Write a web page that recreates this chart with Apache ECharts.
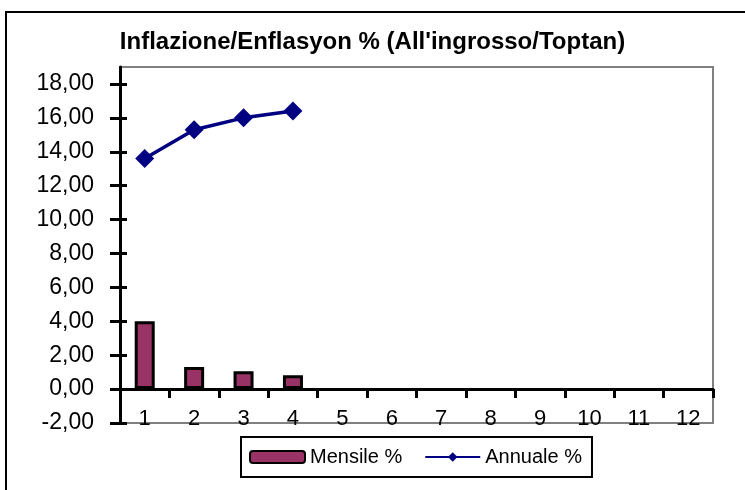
<!DOCTYPE html>
<html>
<head>
<meta charset="utf-8">
<script src="https://cdn.jsdelivr.net/npm/echarts@6/dist/echarts.min.js"></script>
<style>
  html, body { margin: 0; padding: 0; background: #fff; }
  #chart { width: 745px; height: 490px; }
</style>
</head>
<body>
<div id="chart"></div>
<script>
// dati
var mesi = ['1', '2', '3', '4', '5', '6', '7', '8', '9', '10', '11', '12'];
var mensile = [4.0, 1.3, 1.05, 0.82];
var annuale = [13.6, 15.3, 16.0, 16.4];
var yTicks = [-2, 0, 2, 4, 6, 8, 10, 12, 14, 16, 18];

var font = 'Liberation Sans, Arial, sans-serif';

var myChart = echarts.init(document.getElementById('chart'));

var option = {
    backgroundColor: '#fff',
    animation: false,
    title: {
        text: "Inflazione/Enflasyon % (All'ingrosso/Toptan)",
        left: 'center',
        top: 25,
        textStyle: { fontFamily: font, fontSize: 24, fontWeight: 'bold', color: '#000' }
    },
    graphic: [{
        type: 'rect',
        shape: { x: 6, y: 12, width: 800, height: 600 },
        style: { fill: 'none', stroke: '#000', lineWidth: 2 },
        silent: true
    }],
    legend: {
        left: 241,
        top: 437,
        padding: [10, 10, 10, 8],
        itemGap: 22,
        itemWidth: 55,
        itemHeight: 12,
        borderColor: '#000',
        borderWidth: 2,
        textStyle: { fontFamily: font, fontSize: 20, color: '#000' },
        data: ['Mensile %', 'Annuale %']
    },
    grid: {
        left: 120,
        top: 67,
        width: 593,
        height: 356,
        show: true,
        borderColor: '#808080',
        borderWidth: 2,
        backgroundColor: '#fff'
    },
    xAxis: [{
        type: 'category',
        data: mesi,
        axisLine: { onZero: true, lineStyle: { color: '#000', width: 3 } },
        axisTick: { show: true, length: 9, lineStyle: { color: '#000', width: 3 } },
        axisLabel: { show: false }
    }, {
        type: 'category',
        data: mesi,
        position: 'bottom',
        axisLine: { show: false, onZero: false },
        axisTick: { show: false },
        axisLabel: {
            margin: -4,
            verticalAlign: 'middle',
            fontFamily: font, fontSize: 22, color: '#000'
        }
    }],
    yAxis: [{
        type: 'value',
        min: -2,
        max: 19,
        splitLine: { show: false },
        axisLine: { show: true, lineStyle: { color: '#000', width: 3 } },
        axisTick: { show: true, length: 10, customValues: yTicks, lineStyle: { color: '#000', width: 3 } },
        axisLabel: {
            margin: 26,
            customValues: yTicks,
            fontFamily: font, fontSize: 23, color: '#000',
            formatter: function (v) { return v.toFixed(2).replace('.', ','); }
        }
    }, {
        // tacche interne (tick a croce)
        type: 'value',
        position: 'left',
        min: -2,
        max: 19,
        splitLine: { show: false },
        axisLine: { show: false },
        axisTick: { show: true, inside: true, length: 7, customValues: yTicks, lineStyle: { color: '#000', width: 3 } },
        axisLabel: { show: false }
    }],
    series: [{
        name: 'Mensile %',
        type: 'bar',
        barWidth: 20,
        data: mensile,
        itemStyle: { color: '#993366', borderColor: '#000', borderWidth: 3 }
    }, {
        name: 'Annuale %',
        type: 'line',
        data: annuale,
        symbol: 'diamond',
        symbolSize: 19,
        lineStyle: { color: '#000080', width: 3.5 },
        itemStyle: { color: '#000080' }
    }]
};

myChart.setOption(option);
</script>
</body>
</html>
